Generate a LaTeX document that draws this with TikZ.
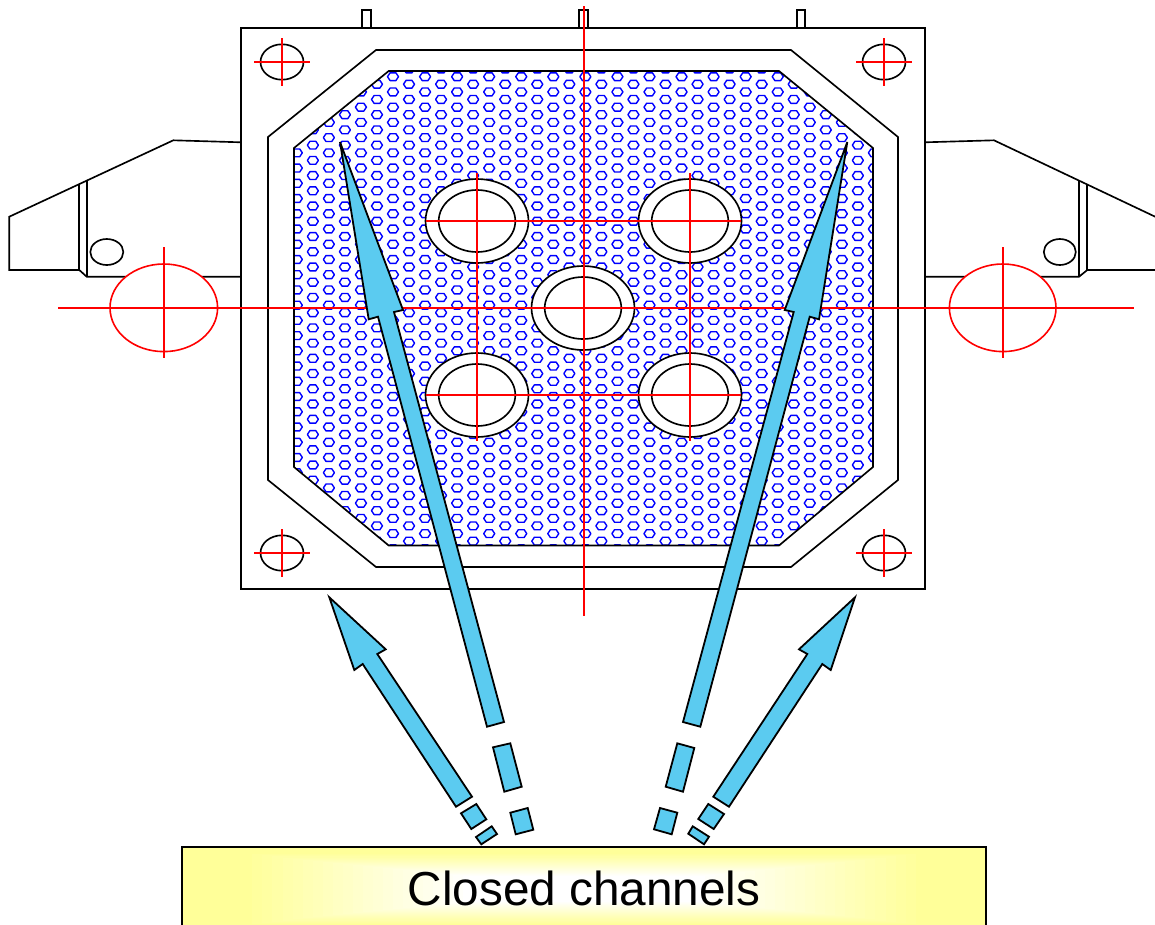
\documentclass[tikz,border=0pt]{standalone}
\usepackage{fontspec}
\setmainfont{Liberation Sans}
\definecolor{arrowblue}{HTML}{5BCBF0}
\definecolor{boxyellow}{HTML}{FFFF99}
\tikzset{
  ink/.style={draw=black,line width=1.65pt,line join=miter},
  redline/.style={draw=red,line width=1.6pt},
  blueshape/.style={draw=black,line width=1.8pt,fill=arrowblue,line join=miter},
  hexline/.style={draw=blue,line width=1.4pt,line join=round},
}
\newcommand{\cornerhole}[2]{%
  \draw[ink] (#1,#2) ellipse [x radius=21.5pt,y radius=17.7pt];
  \draw[redline] (#1-28,#2) -- (#1+28,#2);
  \draw[redline] (#1,#2-24) -- (#1,#2+24);
}
\newcommand{\ringhole}[2]{%
  \filldraw[ink,fill=white] (#1,#2) ellipse [x radius=51.5pt,y radius=42pt];
  \filldraw[ink,fill=white] (#1,#2) ellipse [x radius=38.3pt,y radius=31pt];
}
\begin{document}
\begin{tikzpicture}[x=1pt,y=-1pt]
\clip (0,0) rectangle (1155,924);
\fill[white] (0,0) rectangle (1155,924);
% top tabs
\draw[ink] (362,28) -- (362,10) -- (371,10) -- (371,28);
\draw[ink] (579,28) -- (579,10) -- (588,10) -- (588,28);
\draw[ink] (797,28) -- (797,10) -- (805,10) -- (805,28);
% side brackets
\draw[ink] (241,142.3) -- (173.3,140.3) -- (9.3,216.7) -- (9.3,270) -- (79.3,270) -- (86.7,276.7) -- (241,276.7);
\draw[ink] (79,184.3) -- (79,270);
\draw[ink] (87,181) -- (87,276.7);
\draw[ink] (106.8,252) ellipse [x radius=16.5pt,y radius=13pt];
\draw[ink] (925,142.3) -- (994,140.3) -- (1160,219) (1160,270) -- (1087.3,270) -- (1079,276.7) -- (925,276.7);
\draw[ink] (1087,185) -- (1087,270);
\draw[ink] (1079,181) -- (1079,276.7);
\draw[ink] (1059.8,252) ellipse [x radius=16pt,y radius=13pt];
% plate
\draw[ink,line width=1.9pt] (241,28) rectangle (925,589);
\draw[ink] (268,137) -- (376,50) -- (791,50) -- (898,137) -- (898,480) -- (791,567) -- (376,567) -- (268,480) -- cycle;
% hexagon mesh
\begin{scope}
\clip (294,148) -- (388.7,71) -- (779,71) -- (873,148) -- (873,467) -- (779,545.5) -- (388.7,545.5) -- (294,467) -- cycle;
\foreach \k in {-6,...,30} {
  \foreach \n in {-1,...,31} {
    \pgfmathsetmacro{\hx}{393+16.03*\k}
    \pgfmathsetmacro{\hy}{76.7+15.23*\n+7.5*mod(abs(\k),2)}
    \draw[hexline] (\hx-5.5,\hy) -- (\hx-2.9,\hy-3.9) -- (\hx+2.9,\hy-3.9) -- (\hx+5.5,\hy) -- (\hx+2.9,\hy+3.9) -- (\hx-2.9,\hy+3.9) -- cycle;
  }
}
\end{scope}
\draw[ink] (294,148) -- (388.7,71) -- (779,71) -- (873,148) -- (873,467) -- (779,545.5) -- (388.7,545.5) -- (294,467) -- cycle;
% rings
\ringhole{477}{221}
\ringhole{690}{221}
\ringhole{583}{308}
\ringhole{477}{395}
\ringhole{690}{395}
% corner holes
\cornerhole{282}{62}
\cornerhole{884}{62}
\cornerhole{282}{553}
\cornerhole{884}{553}
% red side ellipses
\filldraw[redline,fill=white] (163.8,307.8) ellipse [x radius=53.8pt,y radius=43.8pt];
\filldraw[redline,fill=white] (1002.7,307.8) ellipse [x radius=53.3pt,y radius=43.8pt];
% centre lines
\draw[redline] (58,308) -- (1134,308);
\draw[redline] (584,6) -- (584,616);
\draw[redline] (164,247) -- (164,358);
\draw[redline] (1003,247) -- (1003,358);
\draw[redline] (477,173) -- (477,441);
\draw[redline] (690,173) -- (690,441);
\draw[redline] (426,221) -- (741,221);
\draw[redline] (426,395) -- (741,395);
% arrows, left long
\draw[blueshape] (340,142) -- (403,310) -- (394,312) -- (504,722) -- (487,726.7) -- (378,316.7) -- (368.7,319.3) -- cycle;
\draw[blueshape] (493,747.3) -- (510.3,743.3) -- (521.7,786.7) -- (504.3,791.7) -- cycle;
\draw[blueshape] (510.3,812.7) -- (527.7,808) -- (533.3,829.7) -- (515.7,834.3) -- cycle;
% left short
\draw[blueshape] (329.3,597.3) -- (385.7,649.3) -- (377.3,654) -- (472,796.7) -- (456,806.7) -- (362.7,664) -- (354.3,670) -- cycle;
\draw[blueshape] (461,813.3) -- (476.3,804) -- (486.3,819.3) -- (471.3,829) -- cycle;
\draw[blueshape] (476,837) -- (491.7,826.3) -- (497,834) -- (481.3,844.3) -- cycle;
% right long
\draw[blueshape] (847.3,142) -- (784.7,310) -- (793.7,312) -- (683,722) -- (700.3,726.7) -- (809.7,316.7) -- (819,319.3) -- cycle;
\draw[blueshape] (677.3,743.3) -- (694.3,748) -- (683,791.7) -- (665.7,786.7) -- cycle;
\draw[blueshape] (660,808) -- (677.3,812.7) -- (671.7,834.3) -- (654,829.3) -- cycle;
% right short
\draw[blueshape] (855,597.3) -- (799,649.3) -- (807.3,654) -- (713.3,796.7) -- (729,806.7) -- (822.3,664) -- (830.7,670) -- cycle;
\draw[blueshape] (708.3,804) -- (724,814) -- (713.7,829) -- (698.3,819) -- cycle;
\draw[blueshape] (692.7,826.3) -- (709,836.7) -- (704,844.3) -- (688.3,833.7) -- cycle;
% yellow box with centre-out gradient
\foreach \i in {0,...,40} {
  \pgfmathsetmacro{\t}{1-\i/40}
  \pgfmathsetmacro{\p}{max(0,min(100,(\t-0.3)/0.55*100))}
  \fill[boxyellow!\p!white] (584-402*\t,889-42*\t) rectangle (584+402*\t,889+42*\t);
}
\draw[ink,line width=2pt] (182,940) -- (182,847) -- (986,847) -- (986,940);
\node[anchor=base,inner sep=0pt,font=\fontsize{47.7}{52}\selectfont] (caption) at (584,905) {Closed channels};
\end{tikzpicture}
\end{document}
